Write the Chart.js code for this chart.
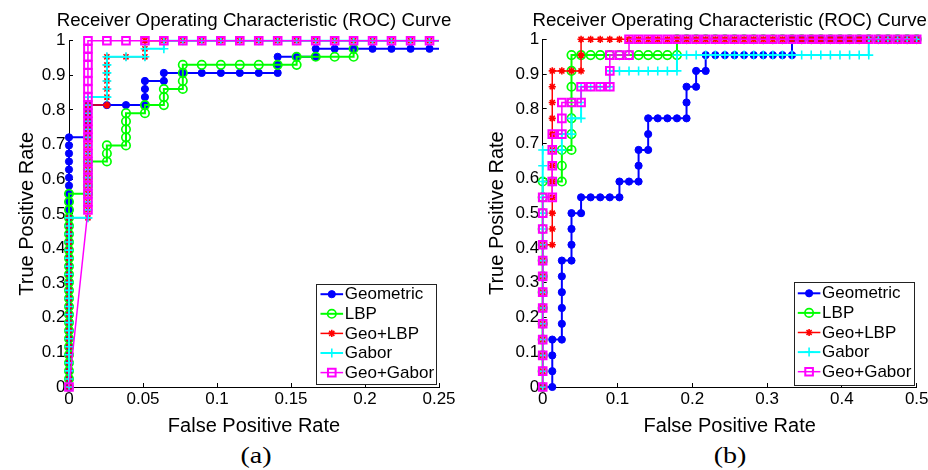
<!DOCTYPE html>
<html>
<head>
<meta charset="utf-8">
<script src="https://cdn.jsdelivr.net/npm/chart.js@4.4.1/dist/chart.umd.min.js"></script>
<style>
html,body{margin:0;padding:0;background:#fff;width:928px;height:470px;overflow:hidden;}
.wrap{position:absolute;top:0;width:464px;height:438px;}
.cap{position:absolute;top:444px;font-family:'Liberation Serif','Times New Roman',serif;font-size:23px;line-height:23px;color:#000;white-space:nowrap;}
</style>
</head>
<body>
<div class="wrap" style="left:0px"><canvas id="cA" width="464" height="438"></canvas></div>
<div class="wrap" style="left:464px"><canvas id="cB" width="464" height="438"></canvas></div>
<div class="cap" id="capA" style="left:256px;transform:translateX(-50%) scaleX(1.22)">(a)</div>
<div class="cap" id="capB" style="left:730px;transform:translateX(-50%) scaleX(1.22)">(b)</div>
<script>
// ---------------- data ----------------
const seriesLabels = ['Geometric', 'LBP', 'Geo+LBP', 'Gabor', 'Geo+Gabor'];
const chartTitle = 'Receiver Operating Characteristic (ROC) Curve';
const xTitle = 'False Positive Rate';
const yTitle = 'True Positive Rate';

const xTickValsA = [0, 0.05, 0.1, 0.15, 0.2, 0.25];
const xTickLabelsA = ['0', '0.05', '0.1', '0.15', '0.2', '0.25'];
const xTickValsB = [0, 0.1, 0.2, 0.3, 0.4, 0.5];
const xTickLabelsB = ['0', '0.1', '0.2', '0.3', '0.4', '0.5'];
const yTickVals = [0, 0.1, 0.2, 0.3, 0.4, 0.5, 0.6, 0.7, 0.8, 0.9, 1];
const yTickLabels = ['0', '0.1', '0.2', '0.3', '0.4', '0.5', '0.6', '0.7', '0.8', '0.9', '1'];

// (a) [FPR, TPR]
const geomA = [
[0,0],[0,0.0233],[0,0.0465],[0,0.0698],[0,0.0930],[0,0.1163],[0,0.1395],[0,0.1628],[0,0.1860],[0,0.2093],
[0,0.2326],[0,0.2558],[0,0.2791],[0,0.3023],[0,0.3256],[0,0.3488],[0,0.3721],[0,0.3953],[0,0.4186],[0,0.4419],
[0,0.4651],[0,0.4884],[0,0.5116],[0,0.5349],[0,0.5581],[0,0.5814],[0,0.6047],[0,0.6279],[0,0.6512],[0,0.6744],
[0,0.6977],[0,0.7209],
[0.0128,0.7209],[0.0128,0.7442],[0.0128,0.7674],[0.0128,0.7907],[0.0128,0.8140],
[0.0256,0.8140],[0.0385,0.8140],[0.0513,0.8140],[0.0513,0.8372],[0.0513,0.8605],[0.0513,0.8837],
[0.0641,0.8837],[0.0641,0.9070],[0.0769,0.9070],[0.0897,0.9070],[0.1026,0.9070],[0.1154,0.9070],[0.1282,0.9070],
[0.1410,0.9070],[0.1410,0.9302],[0.1410,0.9535],[0.1538,0.9535],[0.1667,0.9535],[0.1667,0.9767],
[0.1795,0.9767],[0.1923,0.9767],[0.2051,0.9767],[0.2179,0.9767],[0.2308,0.9767],[0.2436,0.9767],[0.2564,0.9767]
];
const lbpA = [
[0,0],[0,0.0233],[0,0.0465],[0,0.0698],[0,0.0930],[0,0.1163],[0,0.1395],[0,0.1628],[0,0.1860],[0,0.2093],
[0,0.2326],[0,0.2558],[0,0.2791],[0,0.3023],[0,0.3256],[0,0.3488],[0,0.3721],[0,0.3953],[0,0.4186],[0,0.4419],
[0,0.4651],[0,0.4884],[0,0.5116],[0,0.5349],[0,0.5581],
[0.0128,0.5581],[0.0128,0.5814],[0.0128,0.6047],[0.0128,0.6279],[0.0128,0.6512],
[0.0256,0.6512],[0.0256,0.6744],[0.0256,0.6977],
[0.0385,0.6977],[0.0385,0.7209],[0.0385,0.7442],[0.0385,0.7674],[0.0385,0.7907],
[0.0513,0.7907],[0.0513,0.8140],
[0.0641,0.8140],[0.0641,0.8372],[0.0641,0.8605],
[0.0769,0.8605],[0.0769,0.8837],[0.0769,0.9070],[0.0769,0.9302],
[0.0897,0.9302],[0.1026,0.9302],[0.1154,0.9302],[0.1282,0.9302],[0.1410,0.9302],[0.1538,0.9302],
[0.1538,0.9535],[0.1667,0.9535],[0.1795,0.9535],[0.1923,0.9535],[0.1923,0.9767]
];
const geoLbpA = [
[0,0],[0,0.0233],[0,0.0465],[0,0.0698],[0,0.0930],[0,0.1163],[0,0.1395],[0,0.1628],[0,0.1860],[0,0.2093],
[0,0.2326],[0,0.2558],[0,0.2791],[0,0.3023],[0,0.3256],[0,0.3488],[0,0.3721],[0,0.3953],[0,0.4186],[0,0.4419],
[0,0.4651],[0,0.4884],
[0.0128,0.4884],[0.0128,0.5116],[0.0128,0.5349],[0.0128,0.5581],[0.0128,0.5814],[0.0128,0.6047],[0.0128,0.6279],
[0.0128,0.6512],[0.0128,0.6744],[0.0128,0.6977],[0.0128,0.7209],[0.0128,0.7442],[0.0128,0.7674],[0.0128,0.7907],
[0.0128,0.8140],
[0.0256,0.8140],[0.0256,0.8372],[0.0256,0.8605],[0.0256,0.8837],[0.0256,0.9070],[0.0256,0.9302],[0.0256,0.9535],
[0.0385,0.9535],[0.0513,0.9535],[0.0513,0.9767],[0.0513,1],
[0.0641,1],[0.0769,1],[0.0897,1],[0.1026,1],[0.1154,1],[0.1282,1],[0.1410,1],[0.1538,1],[0.1667,1],[0.1795,1],
[0.1923,1],[0.2051,1],[0.2179,1],[0.2308,1],[0.2436,1],[0.2564,1]
];
const gaborA = [
[0,0],[0,0.0233],[0,0.0465],[0,0.0698],[0,0.0930],[0,0.1163],[0,0.1395],[0,0.1628],[0,0.1860],[0,0.2093],
[0,0.2326],[0,0.2558],[0,0.2791],[0,0.3023],[0,0.3256],[0,0.3488],[0,0.3721],[0,0.3953],[0,0.4186],[0,0.4419],
[0,0.4651],[0,0.4884],
[0.0128,0.4884],[0.0128,0.5116],[0.0128,0.5349],[0.0128,0.5581],[0.0128,0.5814],[0.0128,0.6047],[0.0128,0.6279],
[0.0128,0.6512],[0.0128,0.6744],[0.0128,0.6977],[0.0128,0.7209],[0.0128,0.7442],[0.0128,0.7674],[0.0128,0.7907],
[0.0128,0.8140],[0.0128,0.8372],
[0.0256,0.8372],[0.0256,0.8605],[0.0256,0.8837],[0.0256,0.9070],[0.0256,0.9302],[0.0256,0.9535],
[0.0385,0.9535],[0.0513,0.9535],[0.0513,0.9767],[0.0641,0.9767],[0.0641,1],
[0.0769,1],[0.0897,1],[0.1026,1],[0.1154,1],[0.1282,1],[0.1410,1],[0.1538,1],[0.1667,1],[0.1795,1],
[0.1923,1],[0.2051,1],[0.2179,1],[0.2308,1],[0.2436,1],[0.2564,1]
];
const geoGaborA = [
[0,0],
[0.0128,0.5116],[0.0128,0.5349],[0.0128,0.5581],[0.0128,0.5814],[0.0128,0.6047],[0.0128,0.6279],[0.0128,0.6512],
[0.0128,0.6744],[0.0128,0.6977],[0.0128,0.7209],[0.0128,0.7442],[0.0128,0.7674],[0.0128,0.7907],[0.0128,0.8140],
[0.0128,0.8372],[0.0128,0.8605],[0.0128,0.8837],[0.0128,0.9070],[0.0128,0.9302],[0.0128,0.9535],[0.0128,0.9767],
[0.0128,1],
[0.0256,1],[0.0385,1],[0.0513,1],[0.0641,1],[0.0769,1],[0.0897,1],[0.1026,1],[0.1154,1],[0.1282,1],[0.1410,1],
[0.1538,1],[0.1667,1],[0.1795,1],[0.1923,1],[0.2051,1],[0.2179,1],[0.2308,1],[0.2436,1],[0.2564,1]
];

// (b) [FPR, TPR]
const geomB = [
[0,0],[0.0128,0],[0.0128,0.0455],[0.0128,0.0909],[0.0128,0.1364],
[0.0256,0.1364],[0.0256,0.1818],[0.0256,0.2273],[0.0256,0.2727],[0.0256,0.3182],[0.0256,0.3636],
[0.0385,0.3636],[0.0385,0.4091],[0.0385,0.4545],[0.0385,0.5],
[0.0513,0.5],[0.0513,0.5455],
[0.0641,0.5455],[0.0769,0.5455],[0.0897,0.5455],[0.1026,0.5455],[0.1026,0.5909],
[0.1154,0.5909],[0.1282,0.5909],[0.1282,0.6364],[0.1282,0.6818],
[0.1410,0.6818],[0.1410,0.7273],[0.1410,0.7727],
[0.1538,0.7727],[0.1667,0.7727],[0.1795,0.7727],[0.1923,0.7727],[0.1923,0.8182],[0.1923,0.8636],
[0.2051,0.8636],[0.2051,0.9091],[0.2179,0.9091],[0.2179,0.9545],
[0.2308,0.9545],[0.2436,0.9545],[0.2564,0.9545],[0.2692,0.9545],[0.2821,0.9545],[0.2949,0.9545],[0.3077,0.9545],
[0.3205,0.9545],[0.3333,0.9545],[0.3333,1],
[0.3462,1],[0.3590,1],[0.3718,1],[0.3846,1],[0.3974,1],[0.4103,1],[0.4231,1],[0.4359,1],[0.4487,1],[0.4615,1],
[0.4744,1],[0.4872,1],[0.5,1]
];
const lbpB = [
[0,0],[0,0.0455],[0,0.0909],[0,0.1364],[0,0.1818],[0,0.2273],[0,0.2727],[0,0.3182],[0,0.3636],[0,0.4091],
[0,0.4545],[0,0.5],[0,0.5455],[0,0.5909],
[0.0128,0.5909],[0.0256,0.5909],[0.0256,0.6364],[0.0256,0.6818],
[0.0385,0.6818],[0.0385,0.7273],[0.0385,0.7727],[0.0385,0.8182],[0.0385,0.8636],[0.0385,0.9091],[0.0385,0.9545],
[0.0513,0.9545],[0.0641,0.9545],[0.0769,0.9545],[0.0897,0.9545],[0.1026,0.9545],[0.1154,0.9545],[0.1282,0.9545],
[0.1410,0.9545],[0.1538,0.9545],[0.1667,0.9545],[0.1795,0.9545],[0.1795,1],
[0.1923,1],[0.2051,1],[0.2179,1],[0.2308,1],[0.2436,1],[0.2564,1],[0.2692,1],[0.2821,1],[0.2949,1],[0.3077,1],
[0.3205,1],[0.3333,1],[0.3462,1],[0.3590,1],[0.3718,1],[0.3846,1],[0.3974,1],[0.4103,1],[0.4231,1],[0.4359,1],
[0.4487,1],[0.4615,1],[0.4744,1],[0.4872,1],[0.5,1]
];
const geoLbpB = [
[0,0],[0,0.0455],[0,0.0909],[0,0.1364],[0,0.1818],[0,0.2273],[0,0.2727],[0,0.3182],[0,0.3636],[0,0.4091],
[0.0128,0.4091],[0.0128,0.4545],[0.0128,0.5],[0.0128,0.5455],[0.0128,0.5909],[0.0128,0.6364],[0.0128,0.6818],
[0.0128,0.7273],[0.0128,0.7727],[0.0128,0.8182],[0.0128,0.8636],[0.0128,0.9091],
[0.0256,0.9091],[0.0385,0.9091],[0.0513,0.9091],[0.0513,0.9545],[0.0513,1],
[0.0641,1],[0.0769,1],[0.0897,1],[0.1026,1],[0.1154,1],[0.1282,1],[0.1410,1],[0.1538,1],[0.1667,1],[0.1795,1],
[0.1923,1],[0.2051,1],[0.2179,1],[0.2308,1],[0.2436,1],[0.2564,1],[0.2692,1],[0.2821,1],[0.2949,1],[0.3077,1],
[0.3205,1],[0.3333,1],[0.3462,1],[0.3590,1],[0.3718,1],[0.3846,1],[0.3974,1],[0.4103,1],[0.4231,1],[0.4359,1],
[0.4487,1],[0.4615,1],[0.4744,1],[0.4872,1],[0.5,1]
];
const gaborB = [
[0,0],[0,0.0455],[0,0.0909],[0,0.1364],[0,0.1818],[0,0.2273],[0,0.2727],[0,0.3182],[0,0.3636],[0,0.4091],
[0,0.4545],[0,0.5],[0,0.5455],[0,0.5909],[0,0.6364],[0,0.6818],
[0.0128,0.6818],[0.0256,0.6818],[0.0256,0.7273],[0.0385,0.7273],[0.0385,0.7727],[0.0513,0.7727],
[0.0513,0.8182],[0.0513,0.8636],[0.0641,0.8636],[0.0769,0.8636],[0.0897,0.8636],[0.0897,0.9091],
[0.1026,0.9091],[0.1154,0.9091],[0.1282,0.9091],[0.1410,0.9091],[0.1538,0.9091],[0.1667,0.9091],[0.1795,0.9091],
[0.1795,0.9545],
[0.1923,0.9545],[0.2051,0.9545],[0.2179,0.9545],[0.2308,0.9545],[0.2436,0.9545],[0.2564,0.9545],[0.2692,0.9545],
[0.2821,0.9545],[0.2949,0.9545],[0.3077,0.9545],[0.3205,0.9545],[0.3333,0.9545],[0.3462,0.9545],[0.3590,0.9545],
[0.3718,0.9545],[0.3846,0.9545],[0.3974,0.9545],[0.4103,0.9545],[0.4231,0.9545],[0.4359,0.9545],[0.4359,1],
[0.4487,1],[0.4615,1],[0.4744,1],[0.4872,1],[0.5,1]
];
const geoGaborB = [
[0,0],[0,0.0455],[0,0.0909],[0,0.1364],[0,0.1818],[0,0.2273],[0,0.2727],[0,0.3182],[0,0.3636],[0,0.4091],
[0,0.4545],[0,0.5],[0,0.5455],
[0.0128,0.5455],[0.0128,0.5909],[0.0128,0.6364],[0.0128,0.6818],[0.0128,0.7273],
[0.0256,0.7273],[0.0256,0.7727],[0.0256,0.8182],
[0.0385,0.8182],[0.0513,0.8182],[0.0513,0.8636],
[0.0641,0.8636],[0.0769,0.8636],[0.0897,0.8636],[0.0897,0.9091],[0.0897,0.9545],
[0.1026,0.9545],[0.1154,0.9545],[0.1154,1],
[0.1282,1],[0.1410,1],[0.1538,1],[0.1667,1],[0.1795,1],[0.1923,1],[0.2051,1],[0.2179,1],[0.2308,1],[0.2436,1],
[0.2564,1],[0.2692,1],[0.2821,1],[0.2949,1],[0.3077,1],[0.3205,1],[0.3333,1],[0.3462,1],[0.3590,1],[0.3718,1],
[0.3846,1],[0.3974,1],[0.4103,1],[0.4231,1],[0.4359,1],[0.4487,1],[0.4615,1],[0.4744,1],[0.4872,1],[0.5,1]
];

// ---------------- styling ----------------
const FONT = "'Liberation Sans', Arial, Helvetica, sans-serif";
const styles = [
  {borderColor:'#0000ff', borderWidth:2, pointStyle:'circle', pointRadius:3.6, pointBorderWidth:1, pointBackgroundColor:'#0000ff', pointBorderColor:'#0000ff', order:5},
  {borderColor:'#00ff00', borderWidth:2, pointStyle:'circle', pointRadius:4.2, pointBorderWidth:1.7, pointBackgroundColor:'rgba(0,0,0,0)', pointBorderColor:'#00ff00', order:4},
  {borderColor:'#ff0000', borderWidth:1.5, pointStyle:'star', pointRadius:3.6, pointBorderWidth:1.6, pointBackgroundColor:'rgba(0,0,0,0)', pointBorderColor:'#ff0000', order:3},
  {borderColor:'#00ffff', borderWidth:2, pointStyle:'cross', pointRadius:4.5, pointBorderWidth:1.6, pointBackgroundColor:'rgba(0,0,0,0)', pointBorderColor:'#00ffff', order:2},
  {borderColor:'#ff00ff', borderWidth:1.5, pointStyle:'rect', pointRadius:5.4, pointBorderWidth:2, pointBackgroundColor:'rgba(0,0,0,0)', pointBorderColor:'#ff00ff', order:1}
];

function drawMarker(ctx, st, r, x, y) {
  ctx.beginPath();
  if (st === 'circle') { ctx.arc(x, y, r, 0, Math.PI * 2); }
  else if (st === 'rect') { const s = r * Math.SQRT1_2; ctx.rect(x - s, y - s, 2 * s, 2 * s); }
  else {
    ctx.moveTo(x - r, y); ctx.lineTo(x + r, y); ctx.moveTo(x, y - r); ctx.lineTo(x, y + r);
    if (st === 'star') { const d = r * Math.SQRT1_2; ctx.moveTo(x - d, y - d); ctx.lineTo(x + d, y + d); ctx.moveTo(x - d, y + d); ctx.lineTo(x + d, y - d); }
  }
}

// title centred over the plot area (no width squeezing)
const areaTitle = {
  id: 'areaTitle',
  afterDraw(chart, args, o) {
    const ctx = chart.ctx, ca = chart.chartArea;
    ctx.save();
    ctx.font = o.size + 'px ' + FONT;
    ctx.fillStyle = '#000';
    ctx.textAlign = 'center';
    ctx.textBaseline = 'alphabetic';
    ctx.fillText(o.text, (ca.left + ca.right) / 2, o.baseline);
    ctx.restore();
  }
};

const boxLegend = {
  id: 'boxLegend',
  afterDraw(chart, args, o) {
    const ctx = chart.ctx, ca = chart.chartArea;
    const ds = chart.data.datasets;
    ctx.save();
    ctx.font = '17px ' + FONT;
    let maxW = 0;
    ds.forEach(d => { maxW = Math.max(maxW, ctx.measureText(d.label).width); });
    const rowH = 19.6, padL = 4, sample = 22.6, gap = 1.7, padR = 2.6;
    const w = padL + sample + gap + maxW + padR;
    const h = o.padT + rowH * (ds.length - 1) + o.padB;
    const right = ca.right - o.dx, bottom = ca.bottom - o.dy;
    const left = right - w, top = bottom - h;
    ctx.fillStyle = '#fff';
    ctx.fillRect(left, top, w, h);
    ctx.strokeStyle = '#222'; ctx.lineWidth = 1;
    ctx.strokeRect(Math.round(left) + 0.5, Math.round(top) + 0.5, Math.round(w), Math.round(h));
    ds.forEach((d, i) => {
      const y = top + o.padT + i * rowH;
      const x0 = left + padL, x1 = x0 + sample;
      ctx.strokeStyle = d.borderColor; ctx.lineWidth = d.borderWidth;
      ctx.beginPath(); ctx.moveTo(x0, y); ctx.lineTo(x1, y); ctx.stroke();
      drawMarker(ctx, d.pointStyle, d.pointRadius, (x0 + x1) / 2, y);
      if (d.pointBackgroundColor !== 'rgba(0,0,0,0)') { ctx.fillStyle = d.pointBackgroundColor; ctx.fill(); }
      ctx.strokeStyle = d.pointBorderColor; ctx.lineWidth = d.pointBorderWidth; ctx.stroke();
      ctx.fillStyle = '#000'; ctx.textBaseline = 'middle'; ctx.textAlign = 'left';
      ctx.fillText(d.label, x1 + gap, y + 0.5);
    });
    ctx.restore();
  }
};

function makeChart(id, seriesList, cfg) {
  const datasets = seriesList.map((pts, i) => Object.assign({
    label: seriesLabels[i], data: pts, fill: false, tension: 0,
    clip: {left: 10, top: 10, right: cfg.clipRight, bottom: 10}
  }, styles[i]));
  return new Chart(document.getElementById(id), {
    type: 'line',
    data: {datasets},
    plugins: [boxLegend, areaTitle],
    options: {
      responsive: false, animation: false, events: [],
      layout: {padding: {left: 0, right: cfg.padRight, top: cfg.padTop, bottom: 0}},
      plugins: {
        legend: {display: false},
        tooltip: {enabled: false},
        title: {display: false},
        areaTitle: {text: chartTitle, size: 18.7, baseline: 26.3},
        boxLegend: cfg.legend
      },
      scales: {
        x: {
          type: 'linear', min: 0, max: cfg.xMax,
          afterBuildTicks: s => { s.ticks = cfg.xVals.map(v => ({value: v})); },
          afterFit: s => { s.height = 51; s.paddingLeft = 0; s.paddingRight = 0; },
          ticks: {callback: (v, i) => cfg.xLabels[i], color: '#000', font: {family: FONT, size: 17},
                  padding: 6.3, maxRotation: 0, minRotation: 0, autoSkip: false},
          grid: {display: true, drawOnChartArea: false, drawTicks: true, tickLength: -4, color: '#000', lineWidth: 1},
          border: {display: true, color: '#000', width: 1},
          title: {display: true, text: xTitle, color: '#000', font: {family: FONT, size: 20}, padding: {top: 0, bottom: 0}}
        },
        y: {
          type: 'linear', min: 0, max: 1,
          afterBuildTicks: s => { s.ticks = yTickVals.map(v => ({value: v})); },
          afterFit: s => { s.width = cfg.yWidth; s.paddingTop = 0; s.paddingBottom = 0; },
          ticks: {callback: (v, i) => yTickLabels[i], color: '#000', font: {family: FONT, size: 17},
                  padding: 7.5, autoSkip: false},
          grid: {display: true, drawOnChartArea: false, drawTicks: true, tickLength: -4, color: '#000', lineWidth: 1},
          border: {display: true, color: '#000', width: 1},
          title: {display: true, text: yTitle, color: '#000', font: {family: FONT, size: 20}, padding: {top: cfg.yTitlePad, bottom: 0}}
        }
      }
    }
  });
}

makeChart('cA', [geomA, lbpA, geoLbpA, gaborA, geoGaborA], {
  xMax: 0.25, xVals: xTickValsA, xLabels: xTickLabelsA, padRight: 25, padTop: 40.7, yWidth: 69,
  yTitlePad: 15, clipRight: 0, legend: {dx: 2.3, dy: 3, padT: 10, padB: 11.4}
});
makeChart('cB', [geomB, lbpB, geoLbpB, gaborB, geoGaborB], {
  xMax: 0.5, xVals: xTickValsB, xLabels: xTickLabelsB, padRight: 11.3, padTop: 39.3, yWidth: 78.7,
  yTitlePad: 21, clipRight: 6, legend: {dx: 2.7, dy: 2, padT: 11.6, padB: 13.3}
});
</script>
</body>
</html>
